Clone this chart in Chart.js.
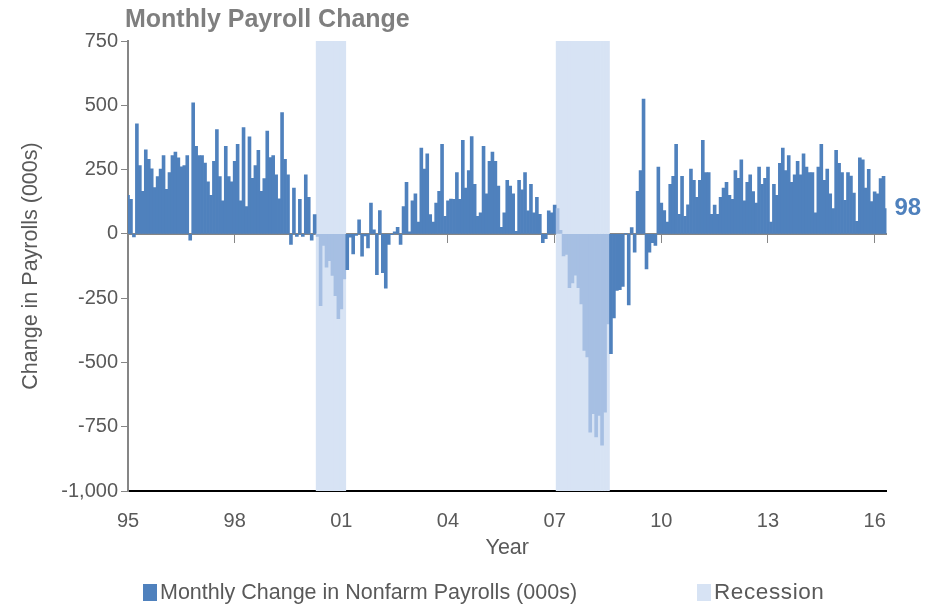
<!DOCTYPE html>
<html>
<head>
<meta charset="utf-8">
<title>Monthly Payroll Change</title>
<script src="https://cdn.jsdelivr.net/npm/chart.js@4.4.1/dist/chart.umd.min.js"></script>
<style>
  html, body { margin: 0; padding: 0; background: #fff; }
  #wrap { position: relative; width: 938px; height: 609px; font-family: "Liberation Sans", Arial, sans-serif; }
  #payrollChart { position: absolute; left: 0; top: 0; }
  .key { position: absolute; top: 579px; font-size: 21.5px; color: #595959; white-space: nowrap; line-height: 26px; }
  .key i { display: inline-block; width: 14px; height: 17px; vertical-align: -2px; margin-right: 3px; }
  #key2 { font-size: 22.5px; letter-spacing: 0.6px; }
</style>
</head>
<body>
<div id="wrap">
  <canvas id="payrollChart" width="938" height="609"></canvas>
  <div class="key" style="left:143px"><i style="background:#4f81bd"></i><span id="key1"></span></div>
  <div class="key" style="left:697px"><i style="background:#d7e3f4"></i><span id="key2"></span></div>
</div>
<script>
// Monthly change in nonfarm payrolls (000s), Nov 1995 .. Mar 2017
const firstMonth = { year: 1995, month: 11 };
const payrolls = [
  150, 134, -12, 428, 266, 165, 327, 290, 253, 180, 223, 252,
  304, 173, 238, 304, 318, 296, 261, 266, 304, -25, 510, 340,
  304, 304, 275, 202, 150, 282, 406, 223, 128, 340, 223, 202,
  282, 348, 128, 413, 106, 377, 216, 266, 325, 165, 215, 400,
  297, 304, 230, 136, 472, 290, 230, -41, 178, -10, 134, -10,
  230, 142, -25, 75, -10, -279, -45, -130, -104, -162, -240, -330,
  -292, -175, -139, -13, -78, -6, 55, -87, -8, -55, 120, 16,
  -159, 91, -151, -211, -41, -3, 8, 25, -41, 106, 200, 8,
  128, 156, 46, 334, 252, 311, 75, 46, 120, 165, 348, 68,
  128, 135, 134, 238, 134, 364, 178, 246, 378, 193, 68, 82,
  340, 156, 282, 318, 282, 186, 25, 82, 208, 186, 156, 10,
  208, 171, 238, 90, 193, 82, 142, 76, -34, -19, 90, 82,
  112, 98, 14, -86, -80, -209, -191, -161, -209, -272, -453, -479,
  -771, -699, -790, -706, -822, -693, -350, -466, -327, -220, -217, -204,
  2, -276, 24, -71, 165, 246, 524, -136, -71, -34, -45, 260,
  120, 91, 46, 193, 224, 348, 76, 224, 68, 113, 252, 208,
  142, 208, 364, 238, 238, 76, 112, 76, 142, 178, 200, 150,
  134, 246, 216, 288, 128, 200, 230, 164, 120, 260, 193, 216,
  260, 46, 193, 150, 274, 334, 246, 304, 200, 230, 282, 230,
  311, 260, 238, 238, 82, 260, 348, 208, 252, 156, 98, 325,
  274, 238, 130, 238, 225, 159, 49, 296, 288, 178, 251, 126,
  163, 156, 215, 224, 98
];
// recession months as drawn (first, last)
const recessions = [['2001-03', '2001-12'], ['2007-12', '2009-05']];
const tickLabels = ['95', '98', '01', '04', '07', '10', '13', '16'];
const tickEvery = 36;
const yMin = -1000, yMax = 750, yStep = 250;

const chartTitle = 'Monthly Payroll Change';
const seriesName = 'Monthly Change in Nonfarm Payrolls (000s)';
const recessionName = 'Recession';
const xTitle = 'Year';
const yTitle = 'Change in Payrolls (000s)';

const months = payrolls.map((_, i) => {
  const m = firstMonth.month - 1 + i;
  return (firstMonth.year + Math.floor(m / 12)) + '-' + String(m % 12 + 1).padStart(2, '0');
});
const inRecession = months.map(m => recessions.some(([a, b]) => m >= a && m <= b));
const recessionBars = inRecession.map(r => r ? [yMin, yMax] : null);

document.getElementById('key1').textContent = seriesName;
document.getElementById('key2').textContent = recessionName;

const FONT = '"Liberation Sans", Arial, sans-serif';
const GREY = '#595959';
const AXIS = '#868686';

const noPad = scale => { scale.paddingLeft = 0; scale.paddingRight = 0; scale.paddingTop = 0; scale.paddingBottom = 0; };

const extras = {
  id: 'extras',
  afterDraw(chart) {
    const { ctx, chartArea, scales } = chart;
    ctx.save();
    ctx.font = 'bold 25px ' + FONT;
    ctx.textBaseline = 'alphabetic';
    ctx.fillStyle = '#7f7f7f';
    ctx.fillText(chartTitle, chartArea.left - 3, 27);
    const last = payrolls[payrolls.length - 1];
    ctx.font = 'bold 24px ' + FONT;
    ctx.fillStyle = '#4f81bd';
    ctx.textBaseline = 'middle';
    ctx.fillText(String(last), chartArea.right + 8, scales.y.getPixelForValue(last));
    ctx.restore();
  }
};

const ctx = document.getElementById('payrollChart').getContext('2d');
new Chart(ctx, {
  type: 'bar',
  data: {
    labels: months,
    datasets: [
      {
        label: recessionName,
        data: recessionBars,
        backgroundColor: '#d7e3f4',
        grouped: false,
        categoryPercentage: 1,
        barPercentage: 1,
        order: 2
      },
      {
        label: seriesName,
        data: payrolls,
        backgroundColor: c => inRecession[c.dataIndex] ? '#a6bfe3' : '#4f81bd',
        grouped: false,
        categoryPercentage: 1,
        barPercentage: 1,
        order: 1
      }
    ]
  },
  options: {
    responsive: false,
    animation: false,
    layout: { padding: { left: 18, right: 51.5, top: 41, bottom: 48 } },
    plugins: {
      legend: { display: false },
      tooltip: { enabled: false }
    },
    scales: {
      x: {
        type: 'category',
        position: 'bottom',
        offset: false,
        grid: { display: false, drawTicks: false, offset: false },
        border: { display: true, color: '#000', width: 2, dash: [1.5, 1.5] },
        ticks: {
          autoSkip: false,
          maxRotation: 0,
          minRotation: 0,
          padding: 18,
          color: GREY,
          font: { family: FONT, size: 20 },
          callback: (v, i) => i % tickEvery === 0 ? tickLabels[i / tickEvery] : ''
        },
        title: { display: true, text: xTitle, color: GREY, font: { family: FONT, size: 21.5 }, padding: { top: 0, bottom: 0 } },
        afterFit: scale => { scale.height = 70; noPad(scale); }
      },
      x2: {
        type: 'category',
        axis: 'x',
        position: { y: 0 },
        offset: false,
        z: 1,
        grid: {
          drawOnChartArea: false,
          offset: false,
          tickLength: 8,
          tickColor: c => c.index % tickEvery === 0 ? AXIS : 'rgba(0,0,0,0)'
        },
        border: { color: AXIS, width: 2 },
        ticks: { display: false, autoSkip: false },
        afterFit: noPad
      },
      y: {
        min: yMin,
        max: yMax,
        grid: { drawOnChartArea: false, color: AXIS, tickLength: 7 },
        border: { color: AXIS, width: 2 },
        ticks: {
          stepSize: yStep,
          padding: 3,
          color: GREY,
          font: { family: FONT, size: 20 },
          callback: v => v.toLocaleString('en-US')
        },
        title: { display: true, text: yTitle, color: GREY, font: { family: FONT, size: 21.5 }, padding: 0 },
        afterFit: scale => { scale.width = 110; noPad(scale); }
      }
    }
  },
  plugins: [extras]
});
</script>
</body>
</html>
